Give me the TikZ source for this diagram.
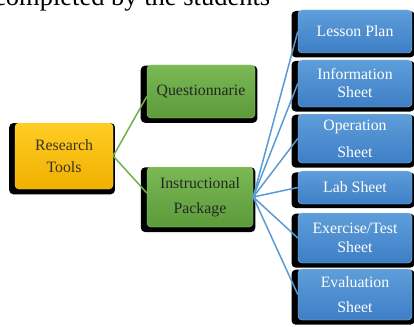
\documentclass[tikz,border=0pt]{standalone}
\usepackage{fontspec}
\setmainfont{Liberation Serif}
\usetikzlibrary{shadows}
\definecolor{goldtop}{HTML}{FFCD25}
\definecolor{goldbot}{HTML}{F0B000}
\definecolor{greentop}{HTML}{7BB956}
\definecolor{greenbot}{HTML}{5C9A3A}
\definecolor{bluetop}{HTML}{5E9EDA}
\definecolor{bluebot}{HTML}{3E7EC6}
\definecolor{greenline}{HTML}{72B04A}
\definecolor{blueline}{HTML}{5B9BD5}
\definecolor{rttext}{HTML}{3A3320}
\begin{document}
\begin{tikzpicture}[x=1pt,y=-1pt,
  box/.style={rectangle, rounded corners=4pt, inner sep=0pt, align=center,
    general shadow={fill=black, shadow xshift=-1.8pt, shadow yshift=-2.5pt, shadow scale=1.08}},
  goldbox/.style={box, top color=goldtop, bottom color=goldbot, draw=goldtop!70!white, line width=0.4pt, text=rttext},
  greenbox/.style={box, top color=greentop, bottom color=greenbot, draw=greentop!70!white, line width=0.4pt, text=black!85},
  bluebox/.style={box, top color=bluetop, bottom color=bluebot, draw=bluetop!60!white, line width=0.4pt, text=white,
    minimum width=114pt},
  fnt/.style={font=\fontsize{15.8}{#1}\selectfont},
  gline/.style={draw=greenline, line width=1.5pt},
  bline/.style={draw=blueline, line width=1.5pt}]
\clip (0,0) rectangle (414,326);
\fill[white] (0,0) rectangle (414,326);
\node[anchor=base west, inner sep=0pt, font=\fontsize{26.5}{30}\selectfont] (cap) at (-6,6) {completed by the students};
% left
\node[goldbox, fnt=22, minimum width=98pt, minimum height=66pt] (rt) at (64,156) {Research\\Tools};
\node[greenbox, fnt=18, minimum width=108pt, minimum height=53pt] (q) at (201,91.5) {Questionnarie};
\node[greenbox, fnt=25, minimum width=106pt, minimum height=60pt] (ip) at (200,197) {Instructional\\Package};
% right
\node[bluebox, fnt=18, minimum height=43pt] (lp) at (355,31.5) {Lesson Plan};
\node[bluebox, fnt=18, minimum height=47pt] (is) at (355,83.5) {Information\\Sheet};
\node[bluebox, fnt=27, minimum height=49pt] (os) at (355,138.5) {Operation\\Sheet};
\node[bluebox, fnt=18, minimum height=33pt] (ls) at (355,187.5) {Lab Sheet};
\node[bluebox, fnt=19, minimum height=50pt] (es) at (355,238) {Exercise/Test\\Sheet};
\node[bluebox, fnt=25, minimum height=51pt] (ev) at (355,294.5) {Evaluation\\Sheet};
% connectors
\draw[gline] (rt.east) -- ([yshift=-5pt]q.west);
\draw[gline] (rt.east) -- ([yshift=4pt]ip.west);
\foreach \t in {lp,is,os,ls,es,ev}
  \draw[bline] (ip.east) -- (\t.west);
\end{tikzpicture}
\end{document}
